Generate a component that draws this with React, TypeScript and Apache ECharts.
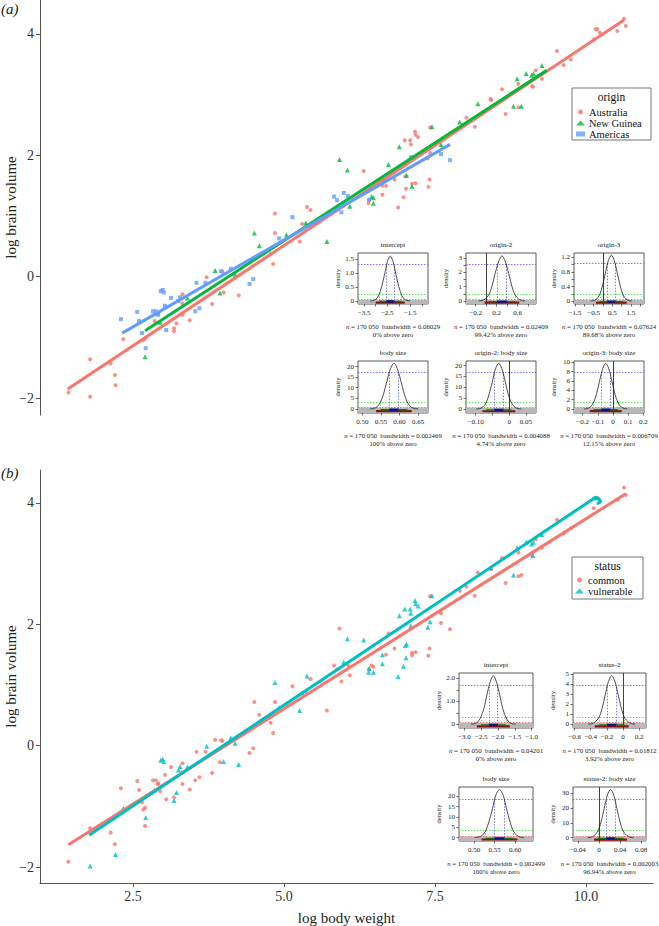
import React, { useEffect, useRef } from "react";
import * as echarts from "echarts";

// ---------------- DATA ----------------
// [log body weight, log brain volume, status (0 = common, 1 = vulnerable)]
const australiaSpecies = [
  [1.43, -1.91, 0], [1.79, -1.98, 1], [1.79, -1.36, 0], [2.13, -1.43, 0], [2.2, -1.62, 0], [2.21, -1.79, 1],
  [2.34, -1.03, 1], [2.67, -1.05, 0], [2.7, -1.02, 0], [2.86, -0.73, 1], [2.92, -0.62, 0], [3.18, -0.85, 0],
  [3.18, -0.9, 1], [3.22, -0.77, 1], [3.32, -0.29, 0], [3.32, -0.44, 0], [3.32, -0.63, 0], [3.44, -0.72, 0],
  [3.72, -0.01, 1], [3.81, -0.45, 0], [4.0, -0.26, 1], [4.25, -0.31, 1], [3.98, 0.08, 0], [4.85, 1.04, 1],
  [4.85, 0.72, 0], [5.38, 1.15, 1], [5.44, 1.1, 0], [5.3, 0.87, 1], [5.26, 0.58, 1], [6.32, 1.74, 1],
  [6.4, 1.21, 1], [6.41, 1.26, 0], [6.63, 1.35, 1], [6.63, 1.5, 1], [6.69, 1.5, 0], [6.83, 1.6, 0],
  [6.89, 1.14, 1], [6.98, 1.31, 1], [7.01, 1.65, 1], [7.02, 1.45, 1], [7.12, 1.53, 0], [7.18, 1.54, 0],
  [7.0, 2.25, 1], [7.09, 2.25, 1], [7.1, 2.18, 1], [7.17, 2.39, 1], [7.18, 2.34, 1], [7.22, 2.3, 1],
  [7.39, 1.48, 0], [7.41, 1.6, 0], [7.42, 2.46, 0], [7.42, 2.04, 1], [7.38, 1.95, 1], [10.63, 4.25, 0],
  [10.66, 4.13, 0], [10.52, 4.05, 0], [10.16, 4.08, 1], [10.19, 4.08, 0], [10.23, 4.02, 0], [10.13, 3.91, 0],
  [9.52, 3.72, 0], [9.63, 3.49, 0], [9.75, 3.58, 0], [9.27, 3.26, 0], [9.17, 3.4, 0], [9.12, 3.13, 1],
  [8.61, 3.09, 0], [8.88, 3.18, 0], [8.42, 2.93, 1], [8.02, 2.62, 0], [8.16, 2.47, 0], [8.67, 2.68, 0],
  [8.43, 2.91, 0], [8.88, 2.79, 0], [4.82, 0.21, 0], [4.78, 0.38, 0], [9.11, 3.14, 0],
];
const newGuineaSpecies = [
  [2.7, -1.32, 0], [2.95, -0.75, 0], [3.4, -0.35, 1], [3.86, 0.1, 0], [3.94, -0.27, 0], [4.19, 0.04, 1],
  [4.51, 0.72, 0], [4.59, 0.51, 0], [5.04, 0.69, 0], [5.36, 0.89, 0], [5.71, 0.58, 0], [5.92, 1.93, 0],
  [6.05, 1.76, 1], [6.09, 1.16, 0], [6.45, 1.32, 0], [6.48, 1.3, 0], [6.48, 1.21, 1], [6.73, 1.85, 0],
  [6.91, 2.14, 1], [7.03, 1.67, 1], [7.12, 1.49, 0], [7.45, 2.47, 1], [7.6, 2.18, 0], [9.27, 3.48, 1],
  [9.01, 3.35, 1], [8.86, 3.26, 1], [9.1, 3.32, 1], [9.13, 3.35, 1], [8.21, 2.85, 0], [7.91, 2.55, 0],
  [8.8, 2.81, 1], [8.93, 2.81, 0],
];
const americasSpecies = [
  [2.3, -0.7, 0], [2.57, -0.58, 0], [2.6, -0.73, 0], [2.65, -0.93, 0], [2.71, -1.18, 1], [2.83, -0.57, 0],
  [2.88, -0.57, 0], [2.91, -0.63, 0], [2.96, -0.24, 1], [2.99, -0.22, 1], [3.01, -0.26, 1], [3.03, -0.48, 0],
  [3.05, -0.88, 0], [3.13, -0.35, 0], [3.25, -0.4, 1], [3.28, -0.34, 1], [3.55, -0.1, 0], [3.53, -0.57, 0],
  [3.6, -0.52, 0], [3.7, -0.1, 0], [3.96, 0.09, 0], [4.12, 0.13, 1], [4.43, -0.12, 0], [4.49, -0.04, 0],
  [4.92, 0.63, 1], [5.14, 0.98, 0], [5.83, 1.32, 0], [5.88, 1.26, 0], [5.99, 1.38, 1], [6.06, 1.33, 0],
  [5.95, 1.06, 0], [6.41, 1.27, 1], [7.1, 1.97, 1], [7.6, 2.02, 0], [7.75, 1.92, 0],
];

const fitAustralia = [[1.42, -1.85], [10.63, 4.23]];
const fitNewGuinea = [[2.7, -0.89], [9.35, 3.4]];
const fitAmericas = [[2.32, -0.93], [7.75, 2.18]];
const fitCommon = [[1.43, -1.63], [10.66, 4.15]];
const fitVulnerable = [[1.79, -1.46], [10.16, 4.09], [10.22, 4.06], [10.24, 4.02], [10.2, 3.99]];

const mainXTicks = [2.5, 5, 7.5, 10];
const mainYTicks = [-2, 0, 2, 4];

// inset posterior density panels
const insetTitles = ["intercept", "origin-2", "origin-3", "body size", "origin-2: body size", "origin-3: body size",
  "intercept", "status-2", "body size", "status-2: body size"];
const insetBandwidths = ["0.06029", "0.02409", "0.07624", "0.002469", "0.004088", "0.006709",
  "0.04201", "0.01812", "0.002499", "0.002003"];
const insetAboveZero = ["0%", "99.42%", "89.68%", "100%", "4.74%", "12.15%", "0%", "3.92%", "100%", "96.94%"];
const insetXRange = [[-3.77, -0.73], [-0.385, 0.95], [-1.55, 2.2], [0.488, 0.677], [-0.129, 0.08], [-0.257, 0.204],
  [-3.16, -0.96], [-0.62, 0.285], [0.463, 0.644], [-0.049, 0.089]];
const insetYRange = [[-0.11, 1.73], [-0.21, 3.33], [-0.08, 1.32], [-1.9, 22.6], [-1.8, 22.1], [-0.86, 10.3],
  [-0.16, 2.23], [-0.37, 5.13], [-1.6, 24.4], [-2.2, 34.3]];
const insetXTicks = [[-3.5, -3, -2.5, -2, -1.5, -1], [-0.2, 0, 0.2, 0.4, 0.6, 0.8], [-1.5, -1, -0.5, 0, 0.5, 1, 1.5, 2],
  [0.5, 0.55, 0.6, 0.65], [-0.1, -0.05, 0, 0.05], [-0.2, -0.1, 0, 0.1, 0.2],
  [-3, -2.5, -2, -1.5, -1], [-0.6, -0.4, -0.2, 0, 0.2], [0.5, 0.55, 0.6], [-0.04, 0, 0.04, 0.08]];
const insetXLabels = [[-3.5, -2.5, -1.5], [-0.2, 0.2, 0.6], [-1.5, -0.5, 0.5, 1.5],
  [0.5, 0.55, 0.6, 0.65], [-0.1, 0, 0.05], [-0.2, -0.1, 0, 0.1, 0.2],
  [-3, -2.5, -2, -1.5, -1], [-0.6, -0.4, -0.2, 0, 0.2], [0.5, 0.55, 0.6], [-0.04, 0, 0.04, 0.08]];
const insetXDecimals = [1, 1, 1, 2, 2, 1, 1, 1, 2, 2];
const insetYTicks = [[0, 0.5, 1, 1.5], [0, 0.5, 1, 1.5, 2, 2.5, 3], [0, 0.2, 0.4, 0.6, 0.8, 1, 1.2],
  [0, 5, 10, 15, 20], [0, 5, 10, 15, 20], [0, 2, 4, 6, 8, 10],
  [0, 0.5, 1, 1.5, 2], [0, 1, 2, 3, 4, 5], [0, 5, 10, 15, 20], [0, 10, 20, 30]];
const insetYLabels = [[0, 0.5, 1, 1.5], [0, 1, 2, 3], [0, 0.4, 0.8, 1.2],
  [0, 5, 10, 15, 20], [0, 5, 10, 15, 20], [0, 2, 4, 6, 8, 10],
  [0, 1, 2], [0, 1, 2, 3, 4, 5], [0, 5, 10, 15, 20], [0, 10, 20, 30]];
const insetYDecimals = [1, 0, 1, 0, 0, 0, 1, 0, 0, 0];
// density levels of the 50 %, 95 % and 99 % intervals
const insetLevels = [[1.33, 0.25, 0.06], [2.57, 0.46, 0.11], [1.03, 0.18, 0.05], [17.3, 3.2, 0.8], [17.0, 3.1, 0.8],
  [7.86, 1.45, 0.35], [1.68, 0.32, 0.08], [3.9, 0.72, 0.18], [18.5, 3.4, 0.85], [26.1, 4.8, 1.2]];
const insetHpd50 = [[-2.53, -2.21], [0.21, 0.39], [0.24, 0.66], [0.573, 0.597], [-0.044, -0.018], [-0.075, -0.021],
  [-2.27, -2.01], [-0.195, -0.085], [0.55, 0.574], [0.014, 0.03]];
const insetHpd95 = [[-2.85, -1.89], [0.05, 0.55], [-0.17, 1.07], [0.549, 0.621], [-0.068, 0.006], [-0.128, 0.032],
  [-2.51, -1.77], [-0.3, 0.02], [0.528, 0.596], [-0.002, 0.046]];
const insetHpd99 = [[-3.0, -1.74], [-0.03, 0.63], [-0.37, 1.27], [0.537, 0.633], [-0.08, 0.018], [-0.153, 0.057],
  [-2.63, -1.65], [-0.35, 0.07], [0.518, 0.606], [-0.009, 0.053]];
const insetCurveX = [
  [-3.23, -3.11, -2.98, -2.86, -2.74, -2.61, -2.49, -2.37, -2.25, -2.13, -2.0, -1.88, -1.76, -1.64, -1.51],
  [-0.14, -0.08, -0.02, 0.05, 0.11, 0.17, 0.24, 0.3, 0.36, 0.43, 0.49, 0.55, 0.62, 0.68, 0.74],
  [-0.66, -0.5, -0.34, -0.18, -0.03, 0.13, 0.29, 0.45, 0.61, 0.77, 0.93, 1.08, 1.24, 1.4, 1.56],
  [0.52, 0.53, 0.539, 0.548, 0.557, 0.566, 0.576, 0.585, 0.594, 0.604, 0.613, 0.622, 0.631, 0.641, 0.65],
  [-0.098, -0.088, -0.079, -0.069, -0.06, -0.05, -0.041, -0.031, -0.022, -0.012, -0.003, 0.007, 0.017, 0.026, 0.036],
  [-0.19, -0.17, -0.15, -0.129, -0.109, -0.089, -0.068, -0.048, -0.028, -0.007, 0.013, 0.033, 0.054, 0.074, 0.094],
  [-2.8, -2.71, -2.61, -2.52, -2.42, -2.33, -2.23, -2.14, -2.05, -1.95, -1.86, -1.76, -1.67, -1.57, -1.48],
  [-0.43, -0.39, -0.35, -0.3, -0.26, -0.22, -0.18, -0.14, -0.1, -0.06, -0.02, 0.02, 0.07, 0.11, 0.15],
  [0.502, 0.51, 0.519, 0.528, 0.536, 0.545, 0.553, 0.562, 0.571, 0.579, 0.588, 0.596, 0.605, 0.614, 0.622],
  [-0.021, -0.015, -0.009, -0.002, 0.004, 0.01, 0.016, 0.022, 0.028, 0.034, 0.04, 0.046, 0.053, 0.059, 0.065],
];
const insetCurveY = [
  [0.004, 0.018, 0.071, 0.219, 0.526, 0.983, 1.43, 1.62, 1.43, 0.983, 0.526, 0.219, 0.071, 0.018, 0.004],
  [0.007, 0.035, 0.138, 0.425, 1.02, 1.904, 2.771, 3.14, 2.771, 1.904, 1.02, 0.425, 0.138, 0.035, 0.007],
  [0.003, 0.014, 0.055, 0.17, 0.409, 0.764, 1.112, 1.26, 1.112, 0.764, 0.409, 0.17, 0.055, 0.014, 0.003],
  [0.05, 0.24, 0.95, 2.92, 7.01, 13.1, 19.06, 21.6, 19.06, 13.1, 7.01, 2.92, 0.95, 0.24, 0.05],
  [0.05, 0.23, 0.92, 2.84, 6.82, 12.74, 18.53, 21.0, 18.53, 12.74, 6.82, 2.84, 0.92, 0.23, 0.05],
  [0.02, 0.11, 0.43, 1.33, 3.18, 5.94, 8.65, 9.8, 8.65, 5.94, 3.18, 1.33, 0.43, 0.11, 0.02],
  [0.005, 0.023, 0.093, 0.285, 0.685, 1.28, 1.862, 2.11, 1.862, 1.28, 0.685, 0.285, 0.093, 0.023, 0.005],
  [0.011, 0.054, 0.213, 0.658, 1.578, 2.948, 4.289, 4.86, 4.289, 2.948, 1.578, 0.658, 0.213, 0.054, 0.011],
  [0.05, 0.26, 1.02, 3.14, 7.53, 14.07, 20.47, 23.2, 20.47, 14.07, 7.53, 3.14, 1.02, 0.26, 0.05],
  [0.07, 0.36, 1.44, 4.42, 10.62, 19.83, 28.86, 32.7, 28.86, 19.83, 10.62, 4.42, 1.44, 0.36, 0.07],
];

// ---------------- LAYOUT / STYLE ----------------
const SERIF = '"Liberation Serif", "DejaVu Serif", "Times New Roman", serif';
const MINUS = "\u2212";
const C_RED = "#F8766D";
const C_GREEN = "#00BA38";
const C_BLUE = "#619CFF";
const C_CYAN = "#00BFC4";
// left, top, width, height of each inset box
const insetBoxes = [
  [358, 253, 70, 51], [466, 253, 70, 51], [574, 253, 70, 51],
  [358, 361, 70, 52], [466, 361, 70, 52], [574, 361, 70, 52],
  [459, 673, 74, 55], [573, 673, 73, 55], [459, 787, 74, 54], [573, 787, 73, 54],
];

function fmt(v: number, d: number) {
  if (Math.abs(v) < 1e-9) return "0";
  return v.toFixed(d).replace("-", MINUS);
}

function buildOption() {
  const grids: any[] = [
    { left: 40, top: 0, width: 613, height: 415, outerBoundsMode: "none" },
    { left: 40, top: 470, width: 613, height: 413, outerBoundsMode: "none" },
  ];
  const xAxes: any[] = [
    { gridIndex: 0, type: "value", min: 0.96, max: 11.11, show: false },
    {
      gridIndex: 1, type: "value", min: 0.96, max: 11.11,
      axisLine: { show: true, onZero: false, lineStyle: { color: "#555", width: 1 } },
      axisTick: { show: true, customValues: mainXTicks, length: 4, lineStyle: { color: "#555" } },
      axisLabel: { customValues: mainXTicks, formatter: (v: number) => v.toFixed(1), fontSize: 14, fontFamily: SERIF, color: "#333", margin: 6 },
      splitLine: { show: false },
      name: "log body weight", nameLocation: "middle", nameGap: 27, nameMoveOverlap: false,
      nameTextStyle: { fontSize: 15, fontFamily: SERIF, color: "#222" },
    },
  ];
  const mainY = (gi: number, min: number, max: number) => ({
    gridIndex: gi, type: "value", min, max,
    axisLine: { show: true, onZero: false, lineStyle: { color: "#555", width: 1 } },
    axisTick: { show: true, customValues: mainYTicks, length: 4, lineStyle: { color: "#555" } },
    axisLabel: { customValues: mainYTicks, formatter: (v: number) => fmt(v, 0), fontSize: 14, fontFamily: SERIF, color: "#333", margin: 6 },
    splitLine: { show: false },
    name: "log brain volume", nameLocation: "middle", nameGap: 22, nameMoveOverlap: false,
    nameTextStyle: { fontSize: 15, fontFamily: SERIF, color: "#222" },
  });
  const yAxes: any[] = [mainY(0, -2.28, 4.56), mainY(1, -2.26, 4.54)];

  const xy = (arr: number[][]) => arr.map((p) => [p[0], p[1]]);
  const allSpecies = [...australiaSpecies, ...newGuineaSpecies, ...americasSpecies];
  const series: any[] = [
    { name: "Australia", type: "scatter", xAxisIndex: 0, yAxisIndex: 0, symbol: "circle", symbolSize: 4, itemStyle: { color: C_RED }, data: xy(australiaSpecies) },
    { name: "New Guinea", type: "scatter", xAxisIndex: 0, yAxisIndex: 0, symbol: "triangle", symbolSize: 5, itemStyle: { color: C_GREEN }, data: xy(newGuineaSpecies) },
    { name: "Americas", type: "scatter", xAxisIndex: 0, yAxisIndex: 0, symbol: "rect", symbolSize: 4, itemStyle: { color: C_BLUE }, data: xy(americasSpecies) },
    { name: "Australia fit", type: "line", xAxisIndex: 0, yAxisIndex: 0, showSymbol: false, symbol: "none", lineStyle: { color: C_RED, width: 3 }, data: fitAustralia, z: 3 },
    { name: "New Guinea fit", type: "line", xAxisIndex: 0, yAxisIndex: 0, showSymbol: false, symbol: "none", lineStyle: { color: C_GREEN, width: 3 }, data: fitNewGuinea, z: 3 },
    { name: "Americas fit", type: "line", xAxisIndex: 0, yAxisIndex: 0, showSymbol: false, symbol: "none", lineStyle: { color: C_BLUE, width: 3 }, data: fitAmericas, z: 3 },
    { name: "common", type: "scatter", xAxisIndex: 1, yAxisIndex: 1, symbol: "circle", symbolSize: 4, itemStyle: { color: C_RED }, data: xy(allSpecies.filter((p) => p[2] === 0)) },
    { name: "vulnerable", type: "scatter", xAxisIndex: 1, yAxisIndex: 1, symbol: "triangle", symbolSize: 5, itemStyle: { color: C_CYAN }, data: xy(allSpecies.filter((p) => p[2] === 1)) },
    { name: "common fit", type: "line", xAxisIndex: 1, yAxisIndex: 1, showSymbol: false, symbol: "none", lineStyle: { color: C_RED, width: 3 }, data: fitCommon, z: 3 },
    { name: "vulnerable fit", type: "line", xAxisIndex: 1, yAxisIndex: 1, showSymbol: false, symbol: "none", smooth: false, lineStyle: { color: C_CYAN, width: 3, join: "round", cap: "round" }, data: fitVulnerable, z: 3 },
  ];

  const graphics: any[] = [
    { type: "text", x: 1, y: 9, style: { text: "(a)", fontSize: 15, fontStyle: "italic", fontFamily: SERIF, fill: "#222", verticalAlign: "middle" } },
    { type: "text", x: 1, y: 473, style: { text: "(b)", fontSize: 15, fontStyle: "italic", fontFamily: SERIF, fill: "#222", verticalAlign: "middle" } },
    { type: "rect", shape: { x: 572, y: 88, width: 79, height: 52 }, style: { fill: "#fff", stroke: "#777", lineWidth: 1 }, z: -1 },
    { type: "text", x: 611.5, y: 97, style: { text: "origin", fontSize: 11.5, fontFamily: SERIF, fill: "#111", align: "center", verticalAlign: "middle" } },
    { type: "rect", shape: { x: 572, y: 557, width: 71, height: 42 }, style: { fill: "#fff", stroke: "#777", lineWidth: 1 }, z: -1 },
    { type: "text", x: 607.5, y: 566, style: { text: "status", fontSize: 11.5, fontFamily: SERIF, fill: "#111", align: "center", verticalAlign: "middle" } },
  ];

  const DOT = [1.5, 1.5];
  insetTitles.forEach((title, i) => {
    const gi = i + 2;
    const [l, t, w, h] = insetBoxes[i];
    const [x0, x1] = insetXRange[i];
    const [y0, y1] = insetYRange[i];
    const [lvB, lvG, lvR] = insetLevels[i];
    const h50 = insetHpd50[i];
    const h95 = insetHpd95[i];
    const h99 = insetHpd99[i];
    grids.push({ left: l, top: t, width: w, height: h, show: true, borderColor: "#333", borderWidth: 0.8, backgroundColor: "rgba(0,0,0,0)", outerBoundsMode: "none" });
    xAxes.push({
      gridIndex: gi, type: "value", min: x0, max: x1,
      axisLine: { show: false, onZero: false },
      axisTick: { show: true, customValues: insetXTicks[i], length: 2.5, lineStyle: { color: "#333", width: 0.7 } },
      axisLabel: { customValues: insetXLabels[i], formatter: (v: number) => fmt(v, insetXDecimals[i]), fontSize: 7, fontFamily: SERIF, color: "#222", margin: 5 },
      splitLine: { show: false },
      name: `{it|n} = 170 050  bandwidth = ${insetBandwidths[i]}\n${insetAboveZero[i]} above zero`,
      nameLocation: "middle", nameGap: 18, nameMoveOverlap: false,
      nameTextStyle: {
        fontSize: 6.8, lineHeight: 8.5, fontFamily: SERIF, color: "#222",
        rich: { it: { fontStyle: "italic", fontSize: 6.8, lineHeight: 8.5, fontFamily: SERIF, color: "#222" } },
      },
    });
    yAxes.push({
      gridIndex: gi, type: "value", min: y0, max: y1,
      axisLine: { show: false, onZero: false },
      axisTick: { show: true, customValues: insetYTicks[i], length: 2.5, lineStyle: { color: "#333", width: 0.7 } },
      axisLabel: { customValues: insetYLabels[i], formatter: (v: number) => fmt(v, insetYDecimals[i]), fontSize: 7, fontFamily: SERIF, color: "#222", margin: 4 },
      splitLine: { show: false },
      name: "density", nameLocation: "middle", nameGap: 17, nameMoveOverlap: false,
      nameTextStyle: { fontSize: 6.5, fontFamily: SERIF, color: "#222" },
    });
    const mlData: any[] = [
      { yAxis: lvB, lineStyle: { color: "#5a5aff" } },
      { yAxis: lvG, lineStyle: { color: "#3fdc3f" } },
      { yAxis: lvR, lineStyle: { color: "#ff5a5a" } },
      [{ coord: [h50[0], 0], lineStyle: { color: "#5a5aff" } }, { coord: [h50[0], lvB] }],
      [{ coord: [h50[1], 0], lineStyle: { color: "#5a5aff" } }, { coord: [h50[1], lvB] }],
      [{ coord: [h95[0], 0], lineStyle: { color: "#3fdc3f" } }, { coord: [h95[0], lvG] }],
      [{ coord: [h95[1], 0], lineStyle: { color: "#3fdc3f" } }, { coord: [h95[1], lvG] }],
    ];
    if (x0 < 0 && x1 > 0) mlData.push({ xAxis: 0, lineStyle: { color: "#111", type: "solid", width: 0.8 } });
    series.push({
      name: `density ${i}`, type: "line", xAxisIndex: gi, yAxisIndex: gi, smooth: 0.3,
      showSymbol: false, symbol: "none", silent: true, z: 5,
      lineStyle: { color: "#222", width: 0.8 },
      data: insetCurveX[i].map((x, k) => [x, insetCurveY[i][k]]),
      markLine: { silent: true, symbol: ["none", "none"], label: { show: false }, lineStyle: { type: DOT, width: 0.8 }, data: mlData },
      markArea: { silent: true, itemStyle: { color: "#b8b8b8" }, data: [[{ xAxis: x0, yAxis: y0 }, { xAxis: x1, yAxis: -y0 * 0.35 }]] },
    });
    const bar = (iv: number[], yf: number, color: string, width: number, name: string) => ({
      name, type: "line", xAxisIndex: gi, yAxisIndex: gi, showSymbol: false, symbol: "none", silent: true, z: 6,
      lineStyle: { color, width }, data: [[iv[0], y0 * yf], [iv[1], y0 * yf]],
    });
    series.push(bar(h99, 0.55, "#8b1010", 2.2, `hpd99 ${i}`));
    series.push(bar(h95, 0.2, "#0a7a0a", 1.4, `hpd95 ${i}`));
    series.push(bar(h50, 0.2, "#10108b", 2.4, `hpd50 ${i}`));
    graphics.push({ type: "text", x: l + w / 2, y: t - 8, style: { text: title, fontSize: 7, fontFamily: SERIF, fill: "#222", align: "center", verticalAlign: "middle" } });
  });

  const legendBase = {
    orient: "vertical", padding: 0, itemWidth: 9, itemHeight: 5, itemGap: 0, selectedMode: false,
    textStyle: { fontSize: 10.5, lineHeight: 10.5, fontFamily: SERIF, color: "#111", padding: [0, 0, 0, -1] },
  };
  return {
    animation: false,
    backgroundColor: "#fff",
    grid: grids,
    xAxis: xAxes,
    yAxis: yAxes,
    legend: [
      { ...legendBase, data: ["Australia", "New Guinea", "Americas"], left: 576, top: 106.5 },
      { ...legendBase, data: ["common", "vulnerable"], left: 575, top: 574.5 },
    ],
    graphic: graphics,
    series,
  };
}

export default function App() {
  const ref = useRef<HTMLDivElement>(null);
  useEffect(() => {
    const chart = echarts.init(ref.current as HTMLDivElement, null, { renderer: "svg" });
    chart.setOption(buildOption() as any);
    return () => chart.dispose();
  }, []);
  return <div ref={ref} style={{ position: "fixed", left: 0, top: 0, width: 659, height: 926, background: "#fff" }} />;
}
